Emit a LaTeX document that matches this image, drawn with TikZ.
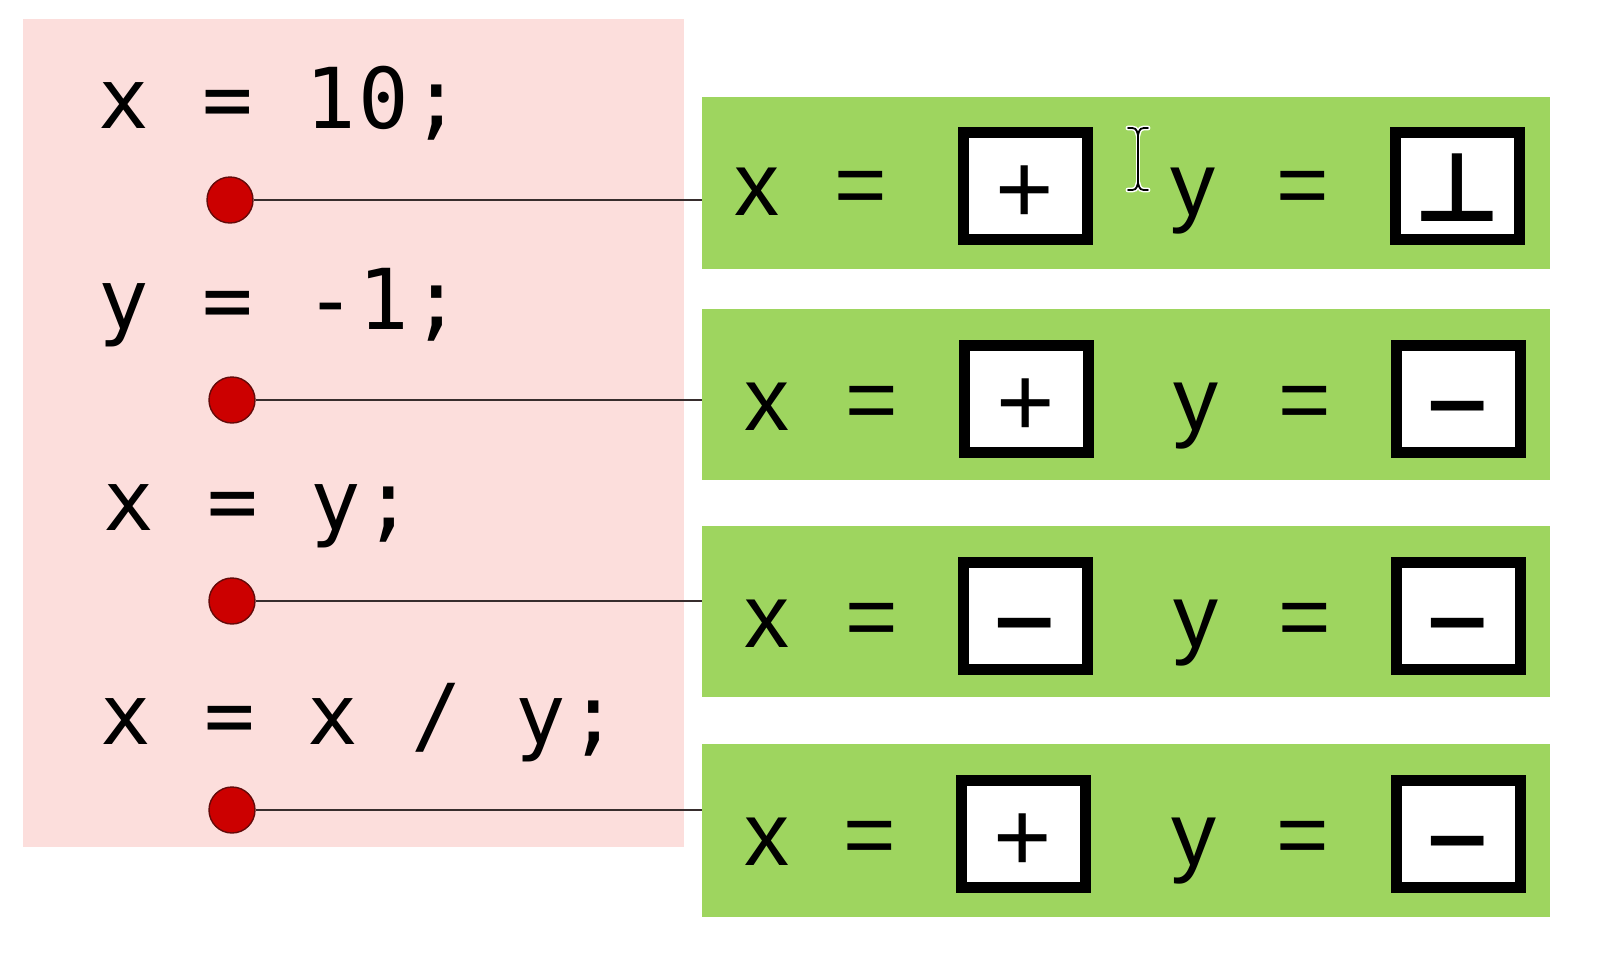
\documentclass[tikz,border=0pt]{standalone}
\usepackage{fontspec}
\setmainfont{Liberation Sans}
\newfontfamily\codefont[LetterSpace=3]{DejaVu Sans Mono}
\newfontfamily\symfont{DejaVu Sans}
\newfontfamily\symboldfont{DejaVu Sans Bold}
\definecolor{pinkbg}{RGB}{252,222,220}
\definecolor{greenbg}{RGB}{158,213,95}
\definecolor{dotred}{RGB}{204,0,0}
\definecolor{dotedge}{RGB}{100,10,10}
\definecolor{connline}{RGB}{55,45,45}
\begin{document}
\begin{tikzpicture}[x=0.5pt,y=-0.5pt,
  codeline/.style={anchor=base west, inner sep=0pt, font=\codefont\fontsize{42}{42}\selectfont},
  statebox/.style={fill=greenbg, draw=none, minimum width=424pt, inner sep=0pt},
  lbl/.style={anchor=base, inner sep=0pt, font=\fontsize{45}{45}\selectfont},
  valbox/.style={draw=black, line width=5.5pt, fill=white, minimum width=62pt, minimum height=53.5pt, inner sep=0pt},
  plussym/.style={anchor=base, inner sep=0pt, font=\fontsize{50}{50}\selectfont},
  minussym/.style={anchor=base, inner sep=0pt, font=\symboldfont\fontsize{42}{42}\selectfont},
  botsym/.style={anchor=base, inner sep=0pt, font=\symboldfont\fontsize{48}{48}\selectfont},
  pdot/.style={circle, fill=dotred, draw=dotedge, line width=0.7pt, minimum size=23pt, inner sep=0pt},
  conn/.style={draw=connline, line width=1.2pt}
]
\useasboundingbox (0,0) rectangle (1624,960);
\fill[white] (0,0) rectangle (1624,960);

% program panel
\node[fill=pinkbg, minimum width=330.5pt, minimum height=414pt, inner sep=0pt] (prog) at (353.5,433) {};

\node[codeline] (c1) at (98,128) {x = 10;};
\node[codeline] (c2) at (98,329) {y = -1;};
\node[codeline] (c3) at (103,530) {x = y;};
\node[codeline] (c4) at (100,744) {x = x / y;};

% state boxes
\node[statebox, minimum height=86pt] (s1) at (1126,183) {};
\node[statebox, minimum height=85.5pt] (s2) at (1126,394.5) {};
\node[statebox, minimum height=85.5pt] (s3) at (1126,611.5) {};
\node[statebox, minimum height=86.5pt] (s4) at (1126,830.5) {};

% program points
\node[pdot] (d1) at (230,200) {};
\node[pdot] (d2) at (232,400) {};
\node[pdot] (d3) at (232,601) {};
\node[pdot] (d4) at (232,810) {};

\draw[conn] (d1) -- (d1 -| s1.west);
\draw[conn] (d2) -- (d2 -| s2.west);
\draw[conn] (d3) -- (d3 -| s3.west);
\draw[conn] (d4) -- (d4 -| s4.west);

% row 1
\node[lbl] (x1) at (757,215) {x};
\node[lbl] (e1) at (861,215) {=};
\node[valbox] (vx1) at (1025,186) {};
\node[plussym] (px1) at (1025,223) {+};
\node[lbl] (y1) at (1193,215) {y};
\node[lbl] (f1) at (1303,215) {=};
\node[valbox] (vy1) at (1457,186) {};
\node[botsym] (py1) at (1457,221) {⊥};

% row 2
\node[lbl] (x2) at (767,430) {x};
\node[lbl] (e2) at (872,430) {=};
\node[valbox] (vx2) at (1026,399) {};
\node[plussym] (px2) at (1026,436) {+};
\node[lbl] (y2) at (1196,430) {y};
\node[lbl] (f2) at (1305,430) {=};
\node[valbox] (vy2) at (1458,399) {};
\node[minussym] (py2) at (1458,432) {−};

% row 3
\node[lbl] (x3) at (767,647) {x};
\node[lbl] (e3) at (872,647) {=};
\node[valbox] (vx3) at (1025,616) {};
\node[minussym] (px3) at (1025,649) {−};
\node[lbl] (y3) at (1196,647) {y};
\node[lbl] (f3) at (1305,647) {=};
\node[valbox] (vy3) at (1458,616) {};
\node[minussym] (py3) at (1458,649) {−};

% row 4
\node[lbl] (x4) at (767,865) {x};
\node[lbl] (e4) at (870,865) {=};
\node[valbox] (vx4) at (1023,834) {};
\node[plussym] (px4) at (1023,871) {+};
\node[lbl] (y4) at (1194,865) {y};
\node[lbl] (f4) at (1303,865) {=};
\node[valbox] (vy4) at (1458,834) {};
\node[minussym] (py4) at (1458,867) {−};

% text cursor
\coordinate (cur) at (1138,159);
\foreach \w/\c in {2.4pt/white, 0.9pt/black}{
  \draw[line width=\w, draw=\c, line cap=round]
    ([shift={(-10,-31)}]cur) .. controls ([shift={(-2,-31)}]cur) .. ([shift={(0,-24)}]cur)
    .. controls ([shift={(2,-31)}]cur) .. ([shift={(10,-31)}]cur);
  \draw[line width=\w, draw=\c, line cap=round]
    ([shift={(-10,31)}]cur) .. controls ([shift={(-2,31)}]cur) .. ([shift={(0,24)}]cur)
    .. controls ([shift={(2,31)}]cur) .. ([shift={(10,31)}]cur);
  \draw[line width=\w, draw=\c] ([shift={(0,-24)}]cur) -- ([shift={(0,24)}]cur);
}
\end{tikzpicture}
\end{document}
